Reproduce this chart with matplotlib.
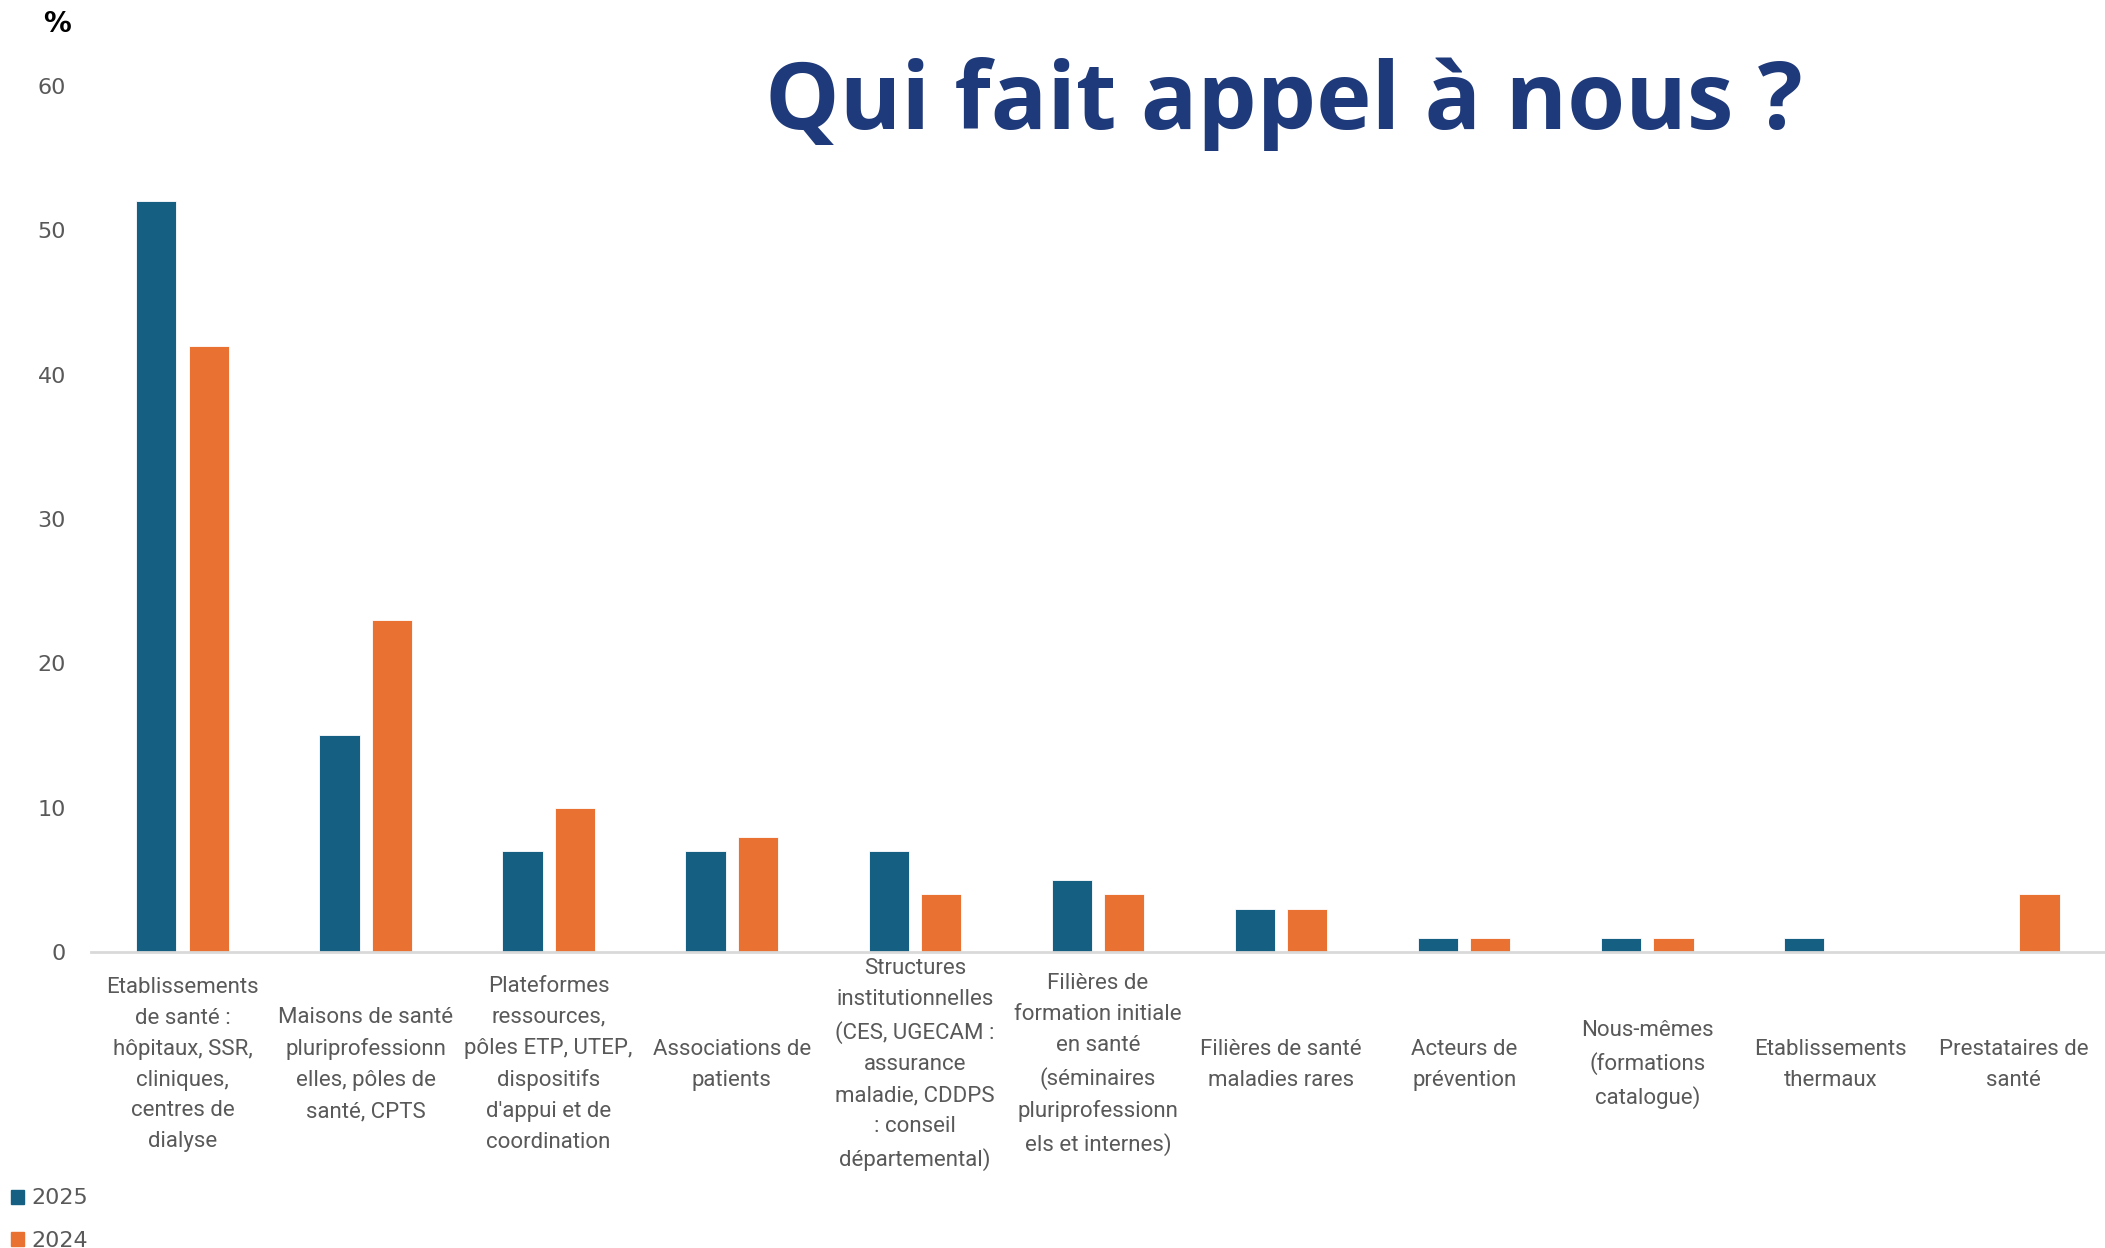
import matplotlib
matplotlib.use("Agg")
import matplotlib.pyplot as plt
from matplotlib.patches import Patch
import numpy as np

# Données
categories = [
    "Etablissements\nde santé :\nhôpitaux, SSR,\ncliniques,\ncentres de\ndialyse",
    "Maisons de santé\npluriprofessionn\nelles, pôles de\nsanté, CPTS",
    "Plateformes\nressources,\npôles ETP, UTEP,\ndispositifs\nd'appui et de\ncoordination",
    "Associations de\npatients",
    "Structures\ninstitutionnelles\n(CES, UGECAM :\nassurance\nmaladie, CDDPS\n: conseil\ndépartemental)",
    "Filières de\nformation initiale\nen santé\n(séminaires\npluriprofessionn\nels et internes)",
    "Filières de santé\nmaladies rares",
    "Acteurs de\nprévention",
    "Nous-mêmes\n(formations\ncatalogue)",
    "Etablissements\nthermaux",
    "Prestataires de\nsanté",
]
valeurs_2025 = [52, 15, 7, 7, 7, 5, 3, 1, 1, 1, 0]
valeurs_2024 = [42, 23, 10, 8, 4, 4, 3, 1, 1, 0, 4]
yticks = [0, 10, 20, 30, 40, 50, 60]

bleu = "#156082"
orange = "#E97132"
gris = "#595959"

fig = plt.figure(figsize=(21.05, 12.48), dpi=100)
ax = fig.add_axes([0.0432, 0.2372, 0.9568, 0.6939])

x = np.arange(len(categories))
larg = 0.22
ax.bar(x - 0.143, valeurs_2025, width=larg, color=bleu, edgecolor="white", linewidth=0.6, label="2025")
ax.bar(x + 0.143, valeurs_2024, width=larg, color=orange, edgecolor="white", linewidth=0.6, label="2024")

ax.set_xlim(-0.5, len(categories) - 0.5)
ax.set_ylim(0, 60)
ax.set_yticks(yticks)
ax.tick_params(axis="y", length=0, pad=18, labelsize=16, labelcolor=gris)
ax.set_xticks([])
for s in ["top", "right", "left"]:
    ax.spines[s].set_visible(False)
ax.spines["bottom"].set_color("#D9D9D9")
ax.spines["bottom"].set_linewidth(2)

# étiquettes des catégories, centrées verticalement
for i, lab in enumerate(categories):
    ax.text(i, -7.8, lab, ha="center", va="center", fontsize=16, color=gris,
            family="Roboto", linespacing=1.62, clip_on=False)

fig.text(0.027, 0.981, "%", fontsize=20, fontweight="bold", color="black", ha="center", va="center")
fig.text(0.61, 0.917, "Qui fait appel à nous ?", fontsize=67.5, fontweight="bold",
         color="#1F3A7A", ha="center", va="center", family="Open Sans")

handles = [Patch(color=bleu, label="2025"), Patch(color=orange, label="2024")]
leg = fig.legend(handles=handles, loc="lower left", bbox_to_anchor=(0.0, -0.011), frameon=False,
                 fontsize=16, handlelength=0.6, handleheight=0.6, handletextpad=0.3,
                 labelspacing=1.0, borderaxespad=0.1)
for t in leg.get_texts():
    t.set_color(gris)

fig.savefig("out.png", dpi=100)
